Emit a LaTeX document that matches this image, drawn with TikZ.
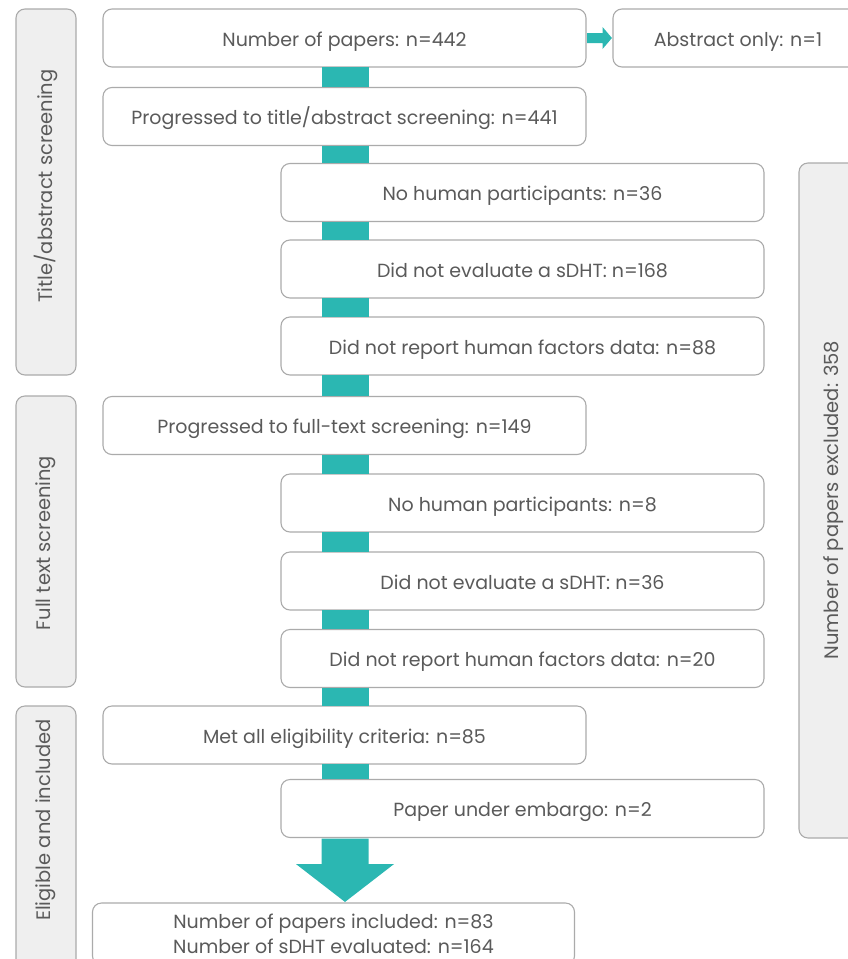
\documentclass[tikz,border=0pt]{standalone}
\usepackage{fontspec}
\setmainfont{Poppins}
\usetikzlibrary{calc}
\definecolor{teal1}{HTML}{2BB7B2}
\definecolor{txt}{HTML}{5A5A5A}
\definecolor{bord}{HTML}{ABABAB}
\definecolor{side}{HTML}{EFEFEF}
\begin{document}
\begin{tikzpicture}[x=1pt,y=-1pt,
  box/.style={draw=bord, line width=1.1pt, fill=white, rounded corners=9pt,
    minimum height=58pt, inner sep=0pt, text=txt, font=\fontsize{19}{25}\selectfont, align=center},
  onebox/.style={box, text height=16pt, text depth=0pt},
  wbox/.style={onebox, minimum width=483pt},
  sidebar/.style={draw=bord, line width=1.1pt, fill=side, rounded corners=9pt},
  sidelabel/.style={rotate=90, text=txt, font=\fontsize{19.5}{22}\selectfont},
  conn/.style={teal1, line width=47pt}
]
\useasboundingbox (0,0) rectangle (848,959);
\clip (0,0) rectangle (848,959);
% side bars
\draw[sidebar] (16,9) rectangle (76,375);
\draw[sidebar] (16,396) rectangle (76,687);
\draw[sidebar] (16,706) rectangle (76,990);
\draw[sidebar] (799,163) rectangle (880,838);
\node[sidelabel] (l1) at (46,186) {Title/abstract screening};
\node[sidelabel] (l2) at (46,543) {Full text screening};
\node[sidelabel] (l3) at (46,820) {Eligible and included};
\node[sidelabel] (l4) at (834,500) {Number of papers excluded: 358};
% connector axis
\coordinate (ax) at (345,0);
% boxes
\node[wbox] (b1) at (344.5,38) {Number of papers: n=442};
\node[onebox, minimum width=250pt] (b1r) at (738,38) {Abstract only: n=1};
\node[wbox] (b2) at (344.5,116.5) {Progressed to title/abstract screening: n=441};
\node[wbox] (b3) at (522.5,192.5) {No human participants: n=36};
\node[wbox] (b4) at (522.5,269) {Did not evaluate a sDHT: n=168};
\node[wbox] (b5) at (522.5,346) {Did not report human factors data: n=88};
\node[wbox] (b6) at (344.5,425.5) {Progressed to full-text screening: n=149};
\node[wbox] (b7) at (522.5,503) {No human participants: n=8};
\node[wbox] (b8) at (522.5,581) {Did not evaluate a sDHT: n=36};
\node[wbox] (b9) at (522.5,658.5) {Did not report human factors data: n=20};
\node[wbox] (b10) at (344.5,735) {Met all eligibility criteria: n=85};
\node[wbox] (b11) at (522.5,808.5) {Paper under embargo: n=2};
\node[box, minimum width=482pt, minimum height=62pt] (b12) at (333.5,934) {Number of papers included: n=83\\Number of sDHT evaluated: n=164};
% connectors
\foreach \a/\b in {b1/b2,b2/b3,b3/b4,b4/b5,b5/b6,b6/b7,b7/b8,b8/b9,b9/b10,b10/b11}{
  \draw[conn] ([yshift=0.5pt]ax |- \a.south) -- ([yshift=-0.5pt]ax |- \b.north);
}
% small arrow
\fill[teal1] ($(b1.east)+(0.5,-5)$) -- ($(b1.east)+(16,-5)$) -- ($(b1.east)+(16,-11)$)
  -- ($(b1r.west)+(-0.5,0)$) -- ($(b1.east)+(16,11)$) -- ($(b1.east)+(16,5)$) -- ($(b1.east)+(0.5,5)$) -- cycle;
% big arrow
\fill[teal1] ($(ax |- b11.south)+(-23.5,0.5)$) -- ($(ax |- b11.south)+(-23.5,26)$) -- ($(ax |- b11.south)+(-49,26)$)
  -- ($(ax |- b12.north)+(0,-0.5)$) -- ($(ax |- b11.south)+(49,26)$) -- ($(ax |- b11.south)+(23.5,26)$) -- ($(ax |- b11.south)+(23.5,0.5)$) -- cycle;
\end{tikzpicture}
\end{document}
